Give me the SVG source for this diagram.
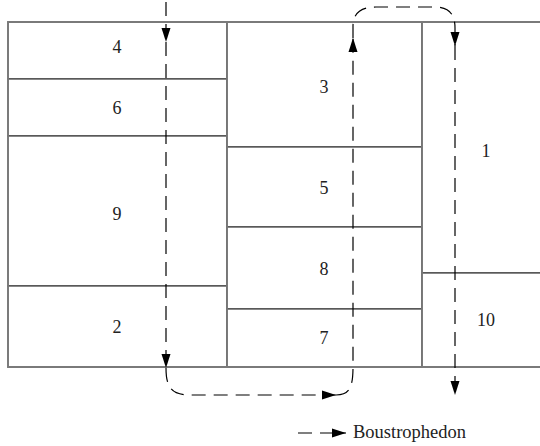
<svg xmlns="http://www.w3.org/2000/svg" width="540" height="446" viewBox="0 0 540 446">
<style>
.cell{fill:#fff;stroke:#3a3a3a;stroke-width:1.2}
.frame{fill:none;stroke:#7a7a7a;stroke-width:1.8}
.lbl{font-family:"Liberation Serif","Times New Roman",serif;font-size:18px;fill:#222;text-anchor:middle}
.path{fill:none;stroke:#000;stroke-width:1.2;stroke-dasharray:14 8}
</style>
<defs>
<marker id="ah" markerUnits="userSpaceOnUse" markerWidth="15" markerHeight="11" refX="14" refY="5" orient="auto">
<path d="M0,0.5 L14,5 L0,9.5 z" fill="#000"/>
</marker>
</defs>
<rect width="540" height="446" fill="#fff"/>
<g id="cell-4"><rect class="cell" x="8" y="22" width="219" height="57"/><text class="lbl" x="117" y="53">4</text></g>
<g id="cell-6"><rect class="cell" x="8" y="79" width="219" height="57"/><text class="lbl" x="117" y="114">6</text></g>
<g id="cell-9"><rect class="cell" x="8" y="136" width="219" height="150"/><text class="lbl" x="117" y="220">9</text></g>
<g id="cell-2"><rect class="cell" x="8" y="286" width="219" height="81"/><text class="lbl" x="117" y="333">2</text></g>
<g id="cell-3"><rect class="cell" x="227" y="22" width="195" height="125"/><text class="lbl" x="324" y="93">3</text></g>
<g id="cell-5"><rect class="cell" x="227" y="147" width="195" height="80"/><text class="lbl" x="324" y="194">5</text></g>
<g id="cell-8"><rect class="cell" x="227" y="227" width="195" height="82"/><text class="lbl" x="324" y="275">8</text></g>
<g id="cell-7"><rect class="cell" x="227" y="309" width="195" height="58"/><text class="lbl" x="324" y="344">7</text></g>
<g id="cell-1"><rect class="cell" x="422" y="22" width="125" height="251"/><text class="lbl" x="486" y="157">1</text></g>
<g id="cell-10"><rect class="cell" x="422" y="273" width="125" height="94"/><text class="lbl" x="486" y="326">10</text></g>
<g id="frame">
<path class="frame" d="M540,22 H8 V367 H540 M227,22 V367 M422,22 V367"/>
</g>
<g id="connectors">
<path class="path" d="M166,2 V42" marker-end="url(#ah)"/>
<path class="path" d="M166,42 V368" marker-end="url(#ah)"/>
<path class="path" d="M166,368 C166,388 172,395 190,395 H336" marker-end="url(#ah)"/>
<path class="path" d="M336,395 C349,395 353,388 353,367 V38" marker-end="url(#ah)"/>
<path class="path" d="M353,38 V26 C353,14 360,7 376,7 H434 C449,7 455,14 455,28 V46" marker-end="url(#ah)"/>
<path class="path" d="M455,46 V395" marker-end="url(#ah)"/>
<path class="path" d="M298,433 H346" marker-end="url(#ah)"/>
</g>
<text x="353" y="438" style="font-family:'Liberation Serif','Times New Roman',serif;font-size:18.5px;fill:#222">Boustrophedon</text>
</svg>
